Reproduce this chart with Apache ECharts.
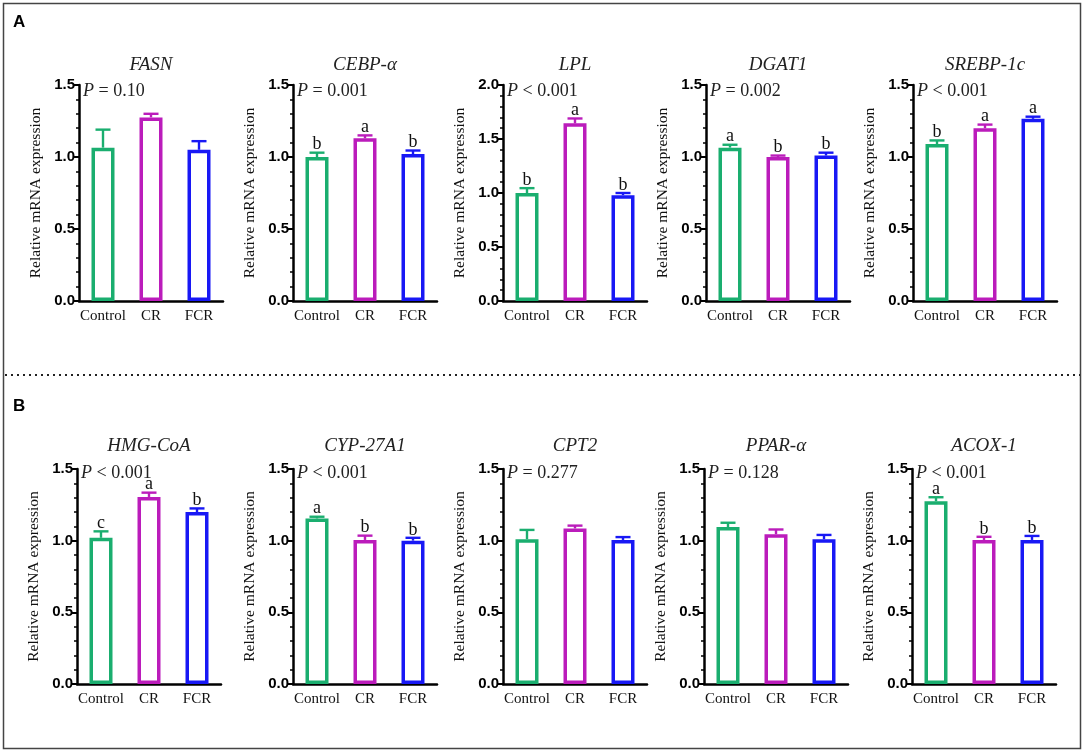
<!DOCTYPE html>
<html>
<head>
<meta charset="utf-8">
<script src="https://cdn.jsdelivr.net/npm/echarts@6/dist/echarts.min.js"></script>
<style>
html, body { margin: 0; padding: 0; background: #fff; }
#chart { width: 1084px; height: 752px; }
</style>
</head>
<body>
<div id="chart"></div>
<script>
// groups and genes
var groups = ['Control', 'CR', 'FCR'];
var genes = ['FASN', 'CEBP-α', 'LPL', 'DGAT1', 'SREBP-1c', 'HMG-CoA', 'CYP-27A1', 'CPT2', 'PPAR-α', 'ACOX-1'];
// mean values (Control, CR, FCR)
var means = [
    [1.065, 1.275, 1.05],
    [1.00, 1.13, 1.02],
    [1.00, 1.645, 0.98],
    [1.065, 1.00, 1.01],
    [1.09, 1.20, 1.265],
    [1.02, 1.305, 1.20],
    [1.155, 1.005, 1.00],
    [1.01, 1.085, 1.005],
    [1.095, 1.045, 1.01],
    [1.275, 1.005, 1.005]
];
// upper error (SEM)
var sems = [
    [0.125, 0.025, 0.06],
    [0.03, 0.02, 0.025],
    [0.045, 0.045, 0.02],
    [0.02, 0.01, 0.02],
    [0.025, 0.025, 0.015],
    [0.045, 0.03, 0.025],
    [0.012, 0.03, 0.02],
    [0.065, 0.02, 0.02],
    [0.03, 0.033, 0.03],
    [0.028, 0.022, 0.028]
];
// significance letters
var letters = [
    ['', '', ''],
    ['b', 'a', 'b'],
    ['b', 'a', 'b'],
    ['a', 'b', 'b'],
    ['b', 'a', 'a'],
    ['c', 'a', 'b'],
    ['a', 'b', 'b'],
    ['', '', ''],
    ['', '', ''],
    ['a', 'b', 'b']
];
var pTexts = [' = 0.10', ' = 0.001', ' < 0.001', ' = 0.002', ' < 0.001',
              ' < 0.001', ' < 0.001', ' = 0.277', ' = 0.128', ' < 0.001'];
var yMax = [1.5, 1.5, 2.0, 1.5, 1.5, 1.5, 1.5, 1.5, 1.5, 1.5];

var colors = ['#1aae6f', '#bb1cbb', '#1818f5'];
var gridLefts = [79, 293, 503, 706, 913, 77, 293, 503, 704, 912];
var serif = '"Liberation Serif", "Times New Roman", serif';
var sans = '"Liberation Sans", Arial, sans-serif';

var chart = echarts.init(document.getElementById('chart'));

// error bar (upper only) + letter above it
function makeErr(k) {
    return function (params, api) {
        var i = api.value(0), m = api.value(1), s = api.value(2);
        var p0 = api.coord([i, m]);
        var p1 = api.coord([i, m + s]);
        var c = colors[i];
        var kids = [
            {type: 'line', shape: {x1: p0[0], y1: p0[1], x2: p1[0], y2: p1[1]},
                style: {stroke: c, lineWidth: 2.4}},
            {type: 'line', shape: {x1: p1[0] - 7.5, y1: p1[1], x2: p1[0] + 7.5, y2: p1[1]},
                style: {stroke: c, lineWidth: 2.4}}
        ];
        var lt = letters[k][params.dataIndex];
        if (lt) {
            kids.push({type: 'text', x: p1[0], y: p1[1] + 1,
                style: {text: lt, fontFamily: serif, fontSize: 18, fill: '#111',
                    align: 'center', verticalAlign: 'bottom'}});
        }
        return {type: 'group', children: kids};
    };
}

var grids = [], xAxes = [], yAxes = [], series = [], graphics = [];
for (var k = 0; k < genes.length; k++) {
    var rowB = k >= 5;
    var gLeft = gridLefts[k];
    var gTop = rowB ? 469 : 85;
    var gHeight = rowB ? 215 : 216;
    grids.push({left: gLeft, top: gTop, width: 144, height: gHeight});
    xAxes.push({
        type: 'category', gridIndex: k, data: groups,
        axisLine: {lineStyle: {color: '#000', width: 2.5}},
        axisTick: {alignWithLabel: true, length: 5, lineStyle: {color: '#000', width: 2}},
        axisLabel: {interval: 0, color: '#111', fontFamily: serif, fontSize: 15, margin: 8}
    });
    yAxes.push({
        type: 'value', gridIndex: k, min: 0, max: yMax[k], interval: 0.5,
        name: 'Relative mRNA expression', nameLocation: 'middle', nameGap: 35,
        nameTextStyle: {fontFamily: serif, fontSize: 15.5, color: '#111'},
        axisLine: {show: true, lineStyle: {color: '#000', width: 2.5}},
        axisTick: {show: true, length: 5, lineStyle: {color: '#000', width: 2}},
        minorTick: {show: true, splitNumber: 5, length: 3, lineStyle: {color: '#000', width: 1.5}},
        splitLine: {show: false},
        axisLabel: {
            formatter: function (v) { return v.toFixed(1); },
            fontFamily: sans, fontWeight: 'bold', fontSize: 15, color: '#000', margin: 4
        }
    });
    series.push({
        type: 'bar', xAxisIndex: k, yAxisIndex: k, barWidth: 23, silent: true, z: 3,
        data: means[k].map(function (v, i) {
            return {value: v, itemStyle: {color: '#fff', borderColor: colors[i], borderWidth: 3.5}};
        })
    });
    series.push({
        type: 'custom', xAxisIndex: k, yAxisIndex: k, silent: true, z: 4,
        encode: {x: 0, y: 1},
        data: means[k].map(function (v, i) { return [i, v, sems[k][i]]; }),
        renderItem: makeErr(k)
    });
    // gene title
    graphics.push({
        type: 'text', x: gLeft + 72, y: rowB ? 446 : 65,
        style: {text: genes[k], fontFamily: serif, fontStyle: 'italic', fontSize: 19,
            fill: '#222', align: 'center', verticalAlign: 'middle'}
    });
    // P value
    graphics.push({
        type: 'text', x: gLeft + 4, y: gTop + (rowB ? 4 : 6),
        style: {
            text: '{i|P}{n|' + pTexts[k] + '}',
            rich: {
                i: {fontFamily: serif, fontStyle: 'italic', fontSize: 18, fill: '#222'},
                n: {fontFamily: serif, fontSize: 18, fill: '#222'}
            },
            align: 'left', verticalAlign: 'middle'
        }
    });
}

// frame, divider and panel letters
graphics.push({type: 'rect', shape: {x: 3.5, y: 3.5, width: 1077, height: 745},
    style: {fill: 'none', stroke: '#444', lineWidth: 1.5}, z: -1});
graphics.push({type: 'line', shape: {x1: 5, y1: 375, x2: 1080, y2: 375},
    style: {stroke: '#222', lineWidth: 2, lineDash: [2, 4]}});
graphics.push({type: 'text', x: 13, y: 22,
    style: {text: 'A', fontFamily: sans, fontWeight: 'bold', fontSize: 17, fill: '#000', verticalAlign: 'middle'}});
graphics.push({type: 'text', x: 13, y: 406,
    style: {text: 'B', fontFamily: sans, fontWeight: 'bold', fontSize: 17, fill: '#000', verticalAlign: 'middle'}});

chart.setOption({
    animation: false,
    backgroundColor: '#fff',
    grid: grids,
    xAxis: xAxes,
    yAxis: yAxes,
    series: series,
    graphic: graphics
});
</script>
</body>
</html>
